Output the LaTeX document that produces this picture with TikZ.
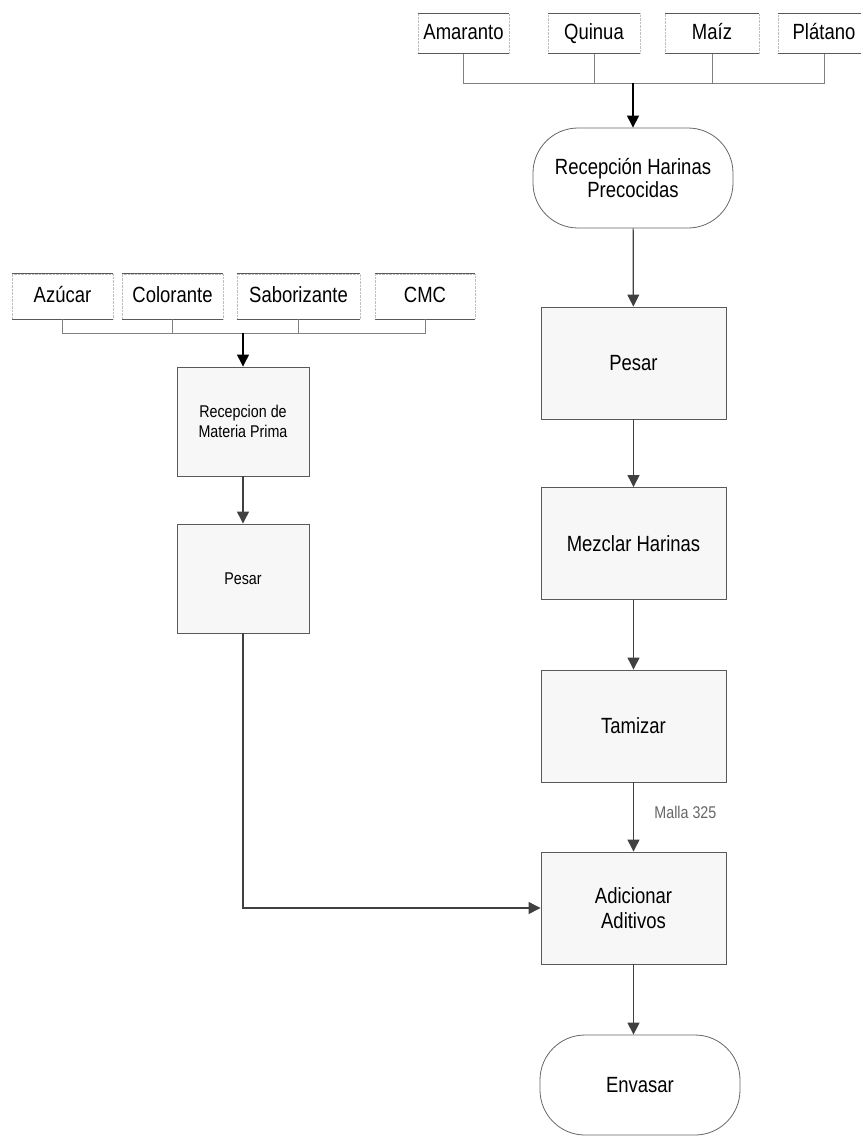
\documentclass[tikz,border=0pt]{standalone}
\usepackage{fontspec}
\setmainfont{Liberation Sans}[FakeStretch=0.84]
\usetikzlibrary{arrows.meta}

\begin{document}
\begin{tikzpicture}[x=1pt,y=-1pt,
  insumo/.style={draw=black!25,densely dotted,inner sep=0,minimum height=40,
    text height=16,text depth=4,font=\fontsize{22}{24}\selectfont},
  insumoI/.style={insumo,minimum height=45},
  borde/.style={draw=black!65,line width=0.9pt},
  union/.style={draw=black!50,line width=0.9pt},
  proceso/.style={draw=black!65,fill=black!3,line width=0.9pt,align=center,
    minimum width=185,minimum height=112,font=\fontsize{22}{24.5}\selectfont},
  procesoI/.style={proceso,minimum width=132,minimum height=109,font=\fontsize{17}{20}\selectfont},
  terminal/.style={draw=black!60,fill=white,line width=0.8pt,rounded corners=45,align=center,
    minimum width=200,minimum height=100,font=\fontsize{22}{23.5}\selectfont},
  flecha/.style={draw=black!75,line width=1.2pt,-{Triangle[length=12pt,width=12pt]}}]
\useasboundingbox (0,0) rectangle (860,1137);

\node[insumo,minimum width=91] (ama) at (463.5,33.5) {Amaranto};
\node[insumo,minimum width=92] (qui) at (594,33.5) {Quinua};
\node[insumo,minimum width=94] (mai) at (712,33.5) {Maíz};
\node[insumo,minimum width=92] (pla) at (824,33.5) {Plátano};
\node[insumoI,minimum width=101] (azu) at (62.5,296.5) {Azúcar};
\node[insumoI,minimum width=101] (col) at (172.5,296.5) {Colorante};
\node[insumoI,minimum width=123] (sab) at (298.5,296.5) {Saborizante};
\node[insumoI,minimum width=100] (cmc) at (425,296.5) {CMC};
\foreach \n in {ama,qui,mai,pla,azu,col,sab,cmc}
  \draw[borde] (\n.north west) -- (\n.north east) (\n.south west) -- (\n.south east);

\node[terminal] (recep) at (633,178) {Recepción Harinas\\Precocidas};
\node[proceso] (pesar) at (633.5,363) {Pesar};
\node[proceso] (mezcla) at (633.5,543.5) {Mezclar Harinas};
\node[proceso] (tamiz) at (633.5,726) {Tamizar};
\node[proceso] (adic) at (633.5,908) {Adicionar\\Aditivos};
\node[terminal] (envas) at (640,1085) {Envasar};
\node[procesoI] (recepMP) at (243,421.5) {Recepcion de\\Materia Prima};
\node[procesoI] (pesarI) at (243,578.5) {Pesar};

\coordinate (uA) at (633,83);
\coordinate (uB) at (243,333);
\foreach \n in {ama,qui,mai,pla}
  \draw[union] (\n.south) |- (uA);
\foreach \n in {azu,col,sab,cmc}
  \draw[union] (\n.south) |- (uB);

\draw[flecha,draw=black] (uA) -- (recep.north);
\draw[flecha,draw=black] (uB) -- (recepMP.north);
\draw[flecha] (recep) -- (pesar);
\draw[flecha] (pesar) -- (mezcla);
\draw[flecha] (mezcla) -- (tamiz);
\draw[flecha] (tamiz) -- node[pos=0.43,anchor=west,xshift=17pt,text=black!60,
  font=\fontsize{17}{20}\selectfont] (malla) {Malla 325} (adic);
\draw[flecha] (adic.south) -- (adic.south |- envas.north);
\draw[flecha] (recepMP) -- (pesarI);
\draw[flecha] (pesarI.south) |- (adic.west);
\end{tikzpicture}
\end{document}
